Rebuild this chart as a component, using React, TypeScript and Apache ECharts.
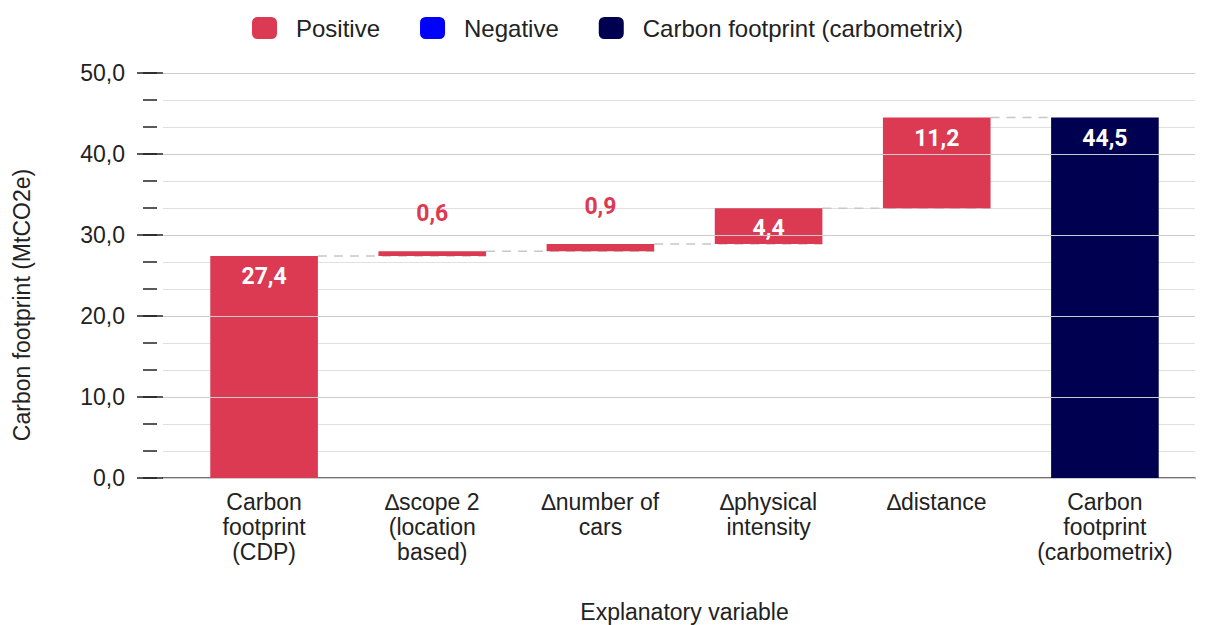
import React, { useEffect, useRef } from "react";
import * as echarts from "echarts";

const categories = [
  "Carbon\nfootprint\n(CDP)",
  "∆scope 2\n(location\nbased)",
  "∆number of\ncars",
  "∆physical\nintensity",
  "∆distance",
  "Carbon\nfootprint\n(carbometrix)",
];
const startValue = 27.4;
const deltas = [0.6, 0.9, 4.4, 11.2];
const endValue = 44.5;
const yMin = 0;
const yMax = 50;
const yInterval = 10;
const yMinorInterval = 10 / 3;

const RED = "#DB3A52";
const BLUE = "#0000FF";
const NAVY = "#000050";
const FONT = "'Liberation Sans', Arial, Helvetica, sans-serif";
const fmt = (v: number) => v.toFixed(1).replace(".", ",");

export default function App() {
  const ref = useRef<HTMLDivElement>(null);
  useEffect(() => {
    if (!ref.current) return;
    const chart = echarts.init(ref.current, null, { renderer: "svg" });

    // cumulative levels
    const tops: number[] = [startValue];
    deltas.forEach((d) => tops.push(Math.round((tops[tops.length - 1] + d) * 10) / 10));
    const base: (number | string)[] = [0];
    deltas.forEach((_, i) => base.push(tops[i]));
    base.push(0);

    const whiteLabel = (dist: number) => ({
      show: true,
      position: "insideTop",
      distance: dist,
      color: "#fff",
      fontFamily: "Roboto, sans-serif",
      fontWeight: "bold",
      fontSize: 23,
      formatter: (p: any) => fmt(p.value),
    });
    const redLabel = {
      show: true,
      position: "top",
      distance: 26,
      color: RED,
      fontFamily: "Roboto, sans-serif",
      fontWeight: "bold",
      fontSize: 23,
      formatter: (p: any) => fmt(p.value),
    };

    const positive: any[] = [{ value: startValue, label: whiteLabel(9) }];
    deltas.forEach((d) => {
      positive.push({ value: d, label: d < 2 ? redLabel : whiteLabel(9) });
    });
    positive.push("-");
    const negative = categories.map(() => "-");
    const total: any[] = categories.map(() => "-");
    total[categories.length - 1] = { value: endValue, label: whiteLabel(9) };

    const connectors = tops.map((lv, i) => [i, lv]);

    const option: any = {
      animation: false,
      legend: {
        data: ["Positive", "Negative", "Carbon footprint (carbometrix)"],
        left: 247,
        top: 11,
        itemWidth: 25,
        itemHeight: 22,
        itemGap: 40,
        icon: "roundRect",
        textStyle: { fontSize: 24, color: "#222", fontFamily: FONT, padding: [0, 0, 0, 14] },
      },
      grid: [
        { left: 163, right: 14, top: 73, bottom: 147, containLabel: false, outerBoundsMode: "none" },
        { left: 180, right: 20, top: 73, bottom: 147, containLabel: false, outerBoundsMode: "none" },
      ],
      xAxis: [
        {
          type: "value",
          gridIndex: 0,
          min: 0,
          max: 1,
          axisLine: { show: true, lineStyle: { color: "#444", width: 1.5 } },
          axisTick: { show: false },
          axisLabel: { show: false },
          splitLine: { show: false },
        },
        {
          type: "category",
          gridIndex: 1,
          data: categories,
          axisLine: { show: false },
          axisTick: { show: false },
          axisLabel: {
            margin: 11,
            fontSize: 23,
            lineHeight: 25,
            color: "#222",
            fontFamily: FONT,
            interval: 0,
          },
          name: "Explanatory variable",
          nameLocation: "middle",
          nameGap: 122,
          nameTextStyle: { fontSize: 23, color: "#222", fontFamily: FONT },
        },
      ],
      yAxis: [
        {
          type: "value",
          gridIndex: 0,
          position: "left",
          min: yMin,
          max: yMax,
          interval: yInterval,
          axisLine: { show: false },
          axisTick: { show: true, length: 26, lineStyle: { color: "#222", width: 1.5 } },
          axisLabel: { margin: 38, fontSize: 23, color: "#222", fontFamily: FONT, formatter: fmt },
          splitLine: { show: true, lineStyle: { color: "#cccccc", width: 1.2 } },
          z: 3,
        },
        {
          type: "value",
          gridIndex: 0,
          position: "left",
          min: yMin,
          max: yMax,
          interval: yMinorInterval,
          offset: 6,
          axisLine: { show: false },
          axisTick: { show: true, length: 14, lineStyle: { color: "#222", width: 1.5 } },
          axisLabel: { show: false },
          splitLine: { show: true, lineStyle: { color: "#e0e0e0", width: 1.2 } },
        },
        {
          type: "value",
          gridIndex: 1,
          min: yMin,
          max: yMax,
          show: false,
          splitLine: { show: false },
        },
      ],
      series: [
        {
          type: "custom",
          xAxisIndex: 1,
          yAxisIndex: 2,
          z: 1,
          silent: true,
          encode: { x: 0, y: 1 },
          data: connectors,
          renderItem: (params: any, api: any) => {
            const i = api.value(0);
            const lv = api.value(1);
            const p0 = api.coord([i, lv]);
            const p1 = api.coord([i + 1, lv]);
            const bw = api.size([1, 0])[0] * 0.64;
            const last = i === connectors.length - 1;
            return {
              type: "line",
              shape: {
                x1: p0[0] + bw / 2,
                y1: p0[1],
                x2: last ? p1[0] - bw / 2 : p1[0] + bw / 2,
                y2: p1[1],
              },
              style: { stroke: "#c8c8c8", lineWidth: 1.5, lineDash: [9, 7] },
            };
          },
        },
        {
          name: "base",
          type: "bar",
          stack: "w",
          xAxisIndex: 1,
          yAxisIndex: 2,
          barWidth: "64%",
          silent: true,
          itemStyle: { color: "transparent" },
          data: base,
          z: 2,
        },
        {
          name: "Positive",
          type: "bar",
          stack: "w",
          xAxisIndex: 1,
          yAxisIndex: 2,
          barWidth: "64%",
          itemStyle: { color: RED },
          data: positive,
          z: 2,
        },
        {
          name: "Negative",
          type: "bar",
          stack: "w",
          xAxisIndex: 1,
          yAxisIndex: 2,
          barWidth: "64%",
          itemStyle: { color: BLUE },
          data: negative,
          z: 2,
        },
        {
          name: "Carbon footprint (carbometrix)",
          type: "bar",
          stack: "w",
          xAxisIndex: 1,
          yAxisIndex: 2,
          barWidth: "64%",
          itemStyle: { color: NAVY },
          data: total,
          z: 2,
        },
      ],
      graphic: [
        {
          type: "text",
          x: 22,
          y: 305,
          rotation: Math.PI / 2,
          style: {
            text: "Carbon footprint (MtCO2e)",
            fontSize: 23,
            fontFamily: FONT,
            fill: "#222",
            align: "center",
            verticalAlign: "middle",
          },
        },
      ],
    };
    chart.setOption(option);
    return () => chart.dispose();
  }, []);
  return <div ref={ref} style={{ width: 1209, height: 625, position: "absolute", left: 0, top: 0, background: "#fff" }} />;
}
